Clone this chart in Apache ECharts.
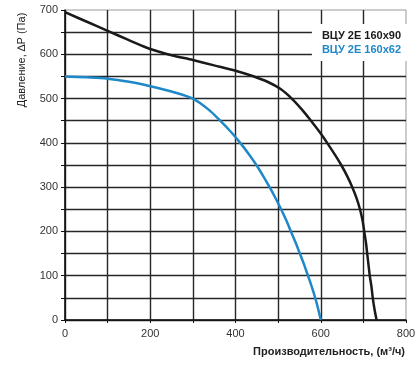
<!DOCTYPE html>
<html>
<head>
<meta charset="utf-8">
<script src="https://cdn.jsdelivr.net/npm/echarts@6/dist/echarts.min.js"></script>
<style>html,body{margin:0;padding:0;background:#fff}#c{width:419px;height:368px}</style>
</head>
<body>
<div id="c"></div>
<script>
const seriesNames = ['ВЦУ 2E 160x90', 'ВЦУ 2E 160x62'];
const flow90 = [0, 50, 100, 150, 200, 250, 300, 350, 400, 440, 475, 505, 532, 556, 577, 597, 615, 632, 648, 662, 674, 684, 692, 698, 702, 706, 709, 712, 715, 719, 722, 726, 731];
const pres90 = [695, 674, 653, 632, 612, 598, 587, 575, 563, 551, 538, 522, 500, 475, 450, 425, 400, 375, 350, 325, 300, 275, 250, 225, 200, 175, 150, 125, 100, 75, 50, 25, 0];
const flow62 = [0, 50, 100, 150, 200, 250, 300, 337, 364, 389, 411, 431, 449, 465, 480, 494, 507, 519, 530, 541, 551, 561, 570, 579, 587, 594, 600];
const pres62 = [550, 548, 545, 538, 528, 516, 500, 475, 450, 425, 400, 375, 350, 325, 300, 275, 250, 225, 200, 175, 150, 125, 100, 75, 50, 25, 0];
const xLabels = [0, 200, 400, 600, 800];
const yLabels = [0, 100, 200, 300, 400, 500, 600, 700];

const pairs = (xs, ys) => xs.map((x, i) => [x, ys[i]]);
const font = 'Liberation Sans, Arial, sans-serif';

const chart = echarts.init(document.getElementById('c'), null, {renderer: 'canvas'});
chart.setOption({
  animation: false,
  backgroundColor: '#fff',
  grid: {left: 65, right: 13, top: 10, bottom: 48, show: true, borderColor: '#999', borderWidth: 1, backgroundColor: 'transparent'},
  xAxis: {
    type: 'value', min: 0, max: 800, interval: 100,
    axisLine: {show: true, lineStyle: {color: '#111', width: 1.5}},
    axisTick: {show: true, length: 3, lineStyle: {color: '#111'}},
    axisLabel: {color: '#333', fontSize: 11, fontFamily: font, margin: 8,
      formatter: v => xLabels.includes(v) ? String(v) : ''},
    splitLine: {show: true, showMaxLine: false, lineStyle: {color: '#262626', width: 1.4}}
  },
  yAxis: {
    type: 'value', min: 0, max: 700, interval: 50,
    axisLine: {show: true, lineStyle: {color: '#111', width: 1.5}},
    axisTick: {show: true, length: 4, lineStyle: {color: '#111'}},
    axisLabel: {color: '#333', fontSize: 11, fontFamily: font, margin: 7,
      formatter: v => yLabels.includes(v) ? String(v) : ''},
    splitLine: {show: true, showMaxLine: false, lineStyle: {color: '#262626', width: 1.4}}
  },
  legend: {
    right: 8, top: 24, orient: 'vertical', itemWidth: 0, itemHeight: 0, itemGap: 3,
    backgroundColor: '#fff', padding: [6, 10, 6, 10],
    textStyle: {fontSize: 11, fontWeight: 'bold', fontFamily: font, padding: [0, 0, 0, -5]},
    data: [
      {name: seriesNames[0], icon: 'rect', textStyle: {color: '#1a1a1a'}},
      {name: seriesNames[1], icon: 'rect', textStyle: {color: '#1e88c9'}}
    ]
  },
  graphic: [
    {type: 'text', x: 22, y: 60, rotation: Math.PI / 2,
      style: {text: 'Давление, ∆P (Па)', fontSize: 11, fontFamily: font, fill: '#222', align: 'center', verticalAlign: 'middle'}},
    {type: 'text', x: 405, y: 352,
      style: {text: 'Производительность, (м³/ч)', fontSize: 11, fontWeight: 'bold', fontFamily: font, fill: '#222', align: 'right', verticalAlign: 'middle'}}
  ],
  series: [
    {name: seriesNames[0], type: 'line', data: pairs(flow90, pres90), smooth: 0.3, showSymbol: false,
      itemStyle: {color: '#1a1a1a'}, lineStyle: {color: '#1a1a1a', width: 2.5}, z: 3},
    {name: seriesNames[1], type: 'line', data: pairs(flow62, pres62), smooth: 0.3, showSymbol: false,
      itemStyle: {color: '#1e88c9'}, lineStyle: {color: '#1e88c9', width: 2.5}, z: 3}
  ]
});
</script>
</body>
</html>
